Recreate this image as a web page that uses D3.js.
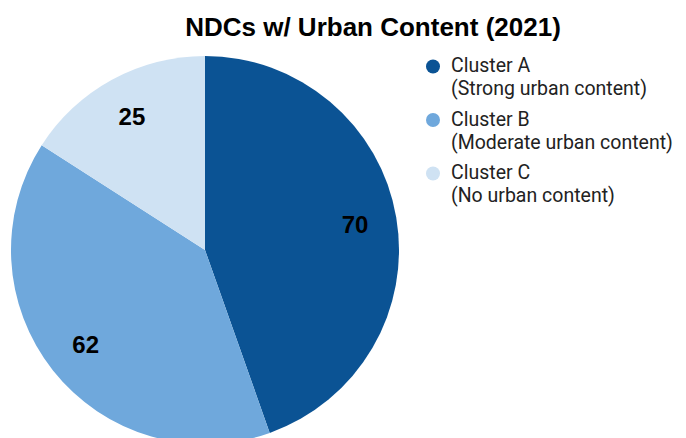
<!DOCTYPE html>
<html>
<head>
<meta charset="utf-8">
<script src="https://cdn.jsdelivr.net/npm/d3@7/dist/d3.min.js"></script>
<style>
  html, body { margin: 0; padding: 0; background: #fff; }
  svg { display: block; }
</style>
</head>
<body>
<svg id="chart" width="686" height="438"></svg>
<script>
// NDC counts by urban-content cluster
const clusters = ["Cluster A", "Cluster B", "Cluster C"];
const descriptions = ["(Strong urban content)", "(Moderate urban content)", "(No urban content)"];
const counts = [70, 62, 25];
const colors = ["#0b5394", "#6fa8dc", "#cfe2f3"];

const data = clusters.map((name, i) => ({ name, desc: descriptions[i], value: counts[i] }));

const svg = d3.select("#chart");
const W = 686, H = 438;
const cx = 205, cy = 250, R = 194;
const boldFont = "'Liberation Sans', Arial, sans-serif";
const legendFont = "Roboto, 'Liberation Sans', Arial, sans-serif";

svg.append("rect").attr("width", W).attr("height", H).attr("fill", "#fff");

const color = d3.scaleOrdinal().domain(clusters).range(colors);

const pie = d3.pie().value(d => d.value).sort(null);
const arc = d3.arc().innerRadius(0).outerRadius(R);
const labelArc = d3.arc().innerRadius(R * 0.785).outerRadius(R * 0.785);

const g = svg.append("g").attr("transform", `translate(${cx},${cy})`);
const arcs = pie(data);

g.selectAll("path.slice")
  .data(arcs)
  .join("path")
  .attr("class", "slice")
  .attr("d", arc)
  .attr("fill", d => color(d.data.name));

g.selectAll("text.value")
  .data(arcs)
  .join("text")
  .attr("class", "value")
  .attr("transform", d => `translate(${labelArc.centroid(d)})`)
  .attr("text-anchor", "middle")
  .attr("dy", "0.36em")
  .attr("font-family", boldFont)
  .attr("font-size", 24)
  .attr("font-weight", "bold")
  .attr("fill", "#000")
  .text(d => d.data.value);

// Title
svg.append("text")
  .attr("x", 373)
  .attr("y", 36)
  .attr("text-anchor", "middle")
  .attr("font-family", boldFont)
  .attr("font-size", 26)
  .attr("font-weight", "bold")
  .attr("fill", "#000")
  .text("NDCs w/ Urban Content (2021)");

// Legend: swatch plus a two-line label (name, description)
const legend = svg.append("g").attr("transform", "translate(433,66.5)");
const item = legend.selectAll("g.item")
  .data(data)
  .join("g")
  .attr("class", "item")
  .attr("transform", (d, i) => `translate(0,${i * 53.5})`);

item.append("circle")
  .attr("r", 7)
  .attr("fill", d => color(d.name));

const label = item.append("text")
  .attr("font-family", legendFont)
  .attr("font-size", 19.5)
  .attr("fill", "#222");

label.append("tspan")
  .attr("x", 18)
  .attr("y", 5.5)
  .text(d => d.name);

label.append("tspan")
  .attr("x", 18)
  .attr("y", 28.5)
  .text(d => d.desc);
</script>
</body>
</html>
